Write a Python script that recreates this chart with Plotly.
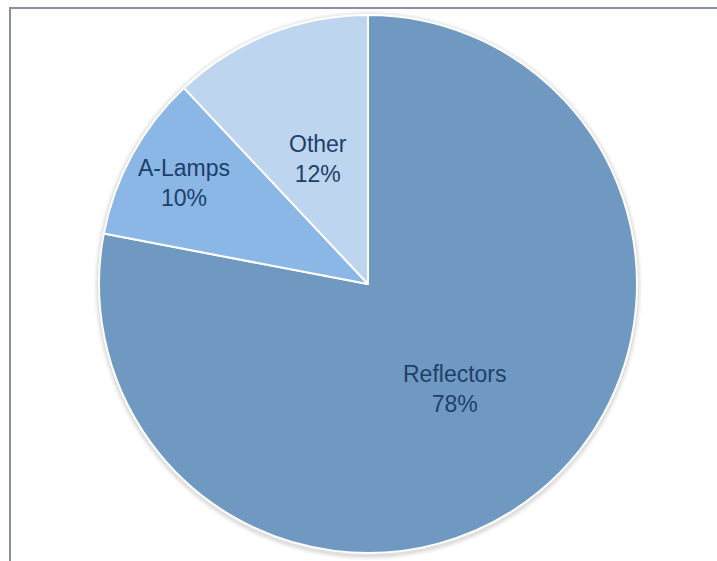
import math
import plotly.graph_objects as go

# Share of lamp types
labels = ["Reflectors", "A-Lamps", "Other"]
shares = [78, 10, 12]
colors = ["#7099c1", "#8ab7e6", "#bed5ef"]
# how far out (fraction of radius) each slice label sits
label_radius = [0.505, 0.78, 0.5]

W, H = 717, 561
cx, cy, r = 368, 284, 269  # pie centre and radius in pixels


def px(x):
    return x / W


def py(y):
    return 1 - y / H


fig = go.Figure(go.Pie(
    labels=labels,
    values=shares,
    sort=False,
    direction="clockwise",
    rotation=0,
    marker=dict(colors=colors, line=dict(color="white", width=2)),
    textinfo="none",
    domain=dict(x=[px(cx - r), px(cx + r)], y=[py(cy + r), py(cy - r)]),
    showlegend=False,
    hoverinfo="label+percent",
))

# Soft halo around the pie
for grow, alpha in [(6, 0.04), (4.5, 0.05), (3, 0.07)]:
    fig.add_shape(type="circle", xref="paper", yref="paper", layer="below",
                  x0=px(cx - r - grow + 1), x1=px(cx + r + grow - 1),
                  y0=py(cy + r + grow + 1), y1=py(cy - r - grow + 2),
                  line=dict(width=0), fillcolor=f"rgba(60,60,60,{alpha})")

# Slice labels placed along each slice's bisector
total = sum(shares)
start = 0.0
for name, val, frac in zip(labels, shares, label_radius):
    mid = math.radians((start + val / 2) / total * 360)
    start += val
    lx = cx + frac * r * math.sin(mid)
    ly = cy - frac * r * math.cos(mid)
    fig.add_annotation(x=px(lx), y=py(ly), xref="paper", yref="paper",
                       text=f"{name}<br>{val}%", showarrow=False,
                       xanchor="center", yanchor="middle", align="center",
                       font=dict(family="Liberation Sans, Arial, sans-serif", size=23, color="#1d3f6b"))

# Frame lines along the top and left edges
frame = "#8a90a3"
fig.add_shape(type="line", xref="paper", yref="paper", x0=px(9), x1=1, y0=py(8), y1=py(8),
              line=dict(color=frame, width=2))
fig.add_shape(type="line", xref="paper", yref="paper", x0=px(10), x1=px(10), y0=0, y1=py(8),
              line=dict(color=frame, width=2))

fig.update_layout(
    width=W, height=H,
    margin=dict(l=0, r=0, t=0, b=0),
    paper_bgcolor="white",
    plot_bgcolor="white",
)

fig.write_html("out.html")
